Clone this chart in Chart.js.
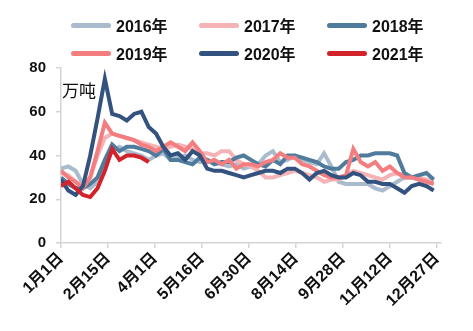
<!DOCTYPE html>
<html>
<head>
<meta charset="utf-8">
<script src="https://cdn.jsdelivr.net/npm/chart.js@4/dist/chart.umd.min.js"></script>
<style>
  html, body { margin: 0; padding: 0; background: #fff; }
  #wrap { position: relative; width: 473px; height: 331px; }
  #legend {
    position: absolute; left: 71px; top: 15px;
    display: grid; grid-template-columns: 128px 128px 128px; row-gap: 8px;
    font: bold 16px "Liberation Sans", "Noto Sans CJK SC", sans-serif; color: #111;
  }
  .item { display: flex; align-items: center; height: 20px; }
  .swatch { width: 40px; height: 5px; border-radius: 3px; margin-right: 5px; }
</style>
</head>
<body>
<div id="wrap">
  <canvas id="stockChart" width="473" height="331"></canvas>
  <div id="legend"></div>
</div>
<script>
// weekly readings, days counted from 1 Jan
const years = ['2016年', '2017年', '2018年', '2019年', '2020年', '2021年'];
const colors = ['#a9bbcd', '#f5b3b6', '#4f7c9c', '#f47d7f', '#33527f', '#d2232b'];

const tickDays = [0, 45, 90, 135, 180, 225, 270, 315, 360];
const tickLabels = ['1月1日', '2月15日', '4月1日', '5月16日', '6月30日', '8月14日', '9月28日', '11月12日', '12月27日'];
const yTicks = [0, 20, 40, 60, 80];

const data2016 = [34, 35, 33, 27, 25, 28, 35, 42, 44, 42, 41, 40, 38, 40, 41, 38, 39, 40, 38, 37, 38, 37, 36, 35, 36, 34,
  35, 36, 40, 42, 37, 38, 40, 38, 37, 36, 41, 35, 28, 27, 27, 27, 27, 25, 24, 26, 28, 30, 30, 29, 28, 27];
const data2017 = [32, 31, 28, 26, 30, 40, 48, 50, 49, 48, 47, 46, 45, 44, 43, 44, 45, 44, 43, 41, 41, 40, 42, 42, 38, 36,
  35, 33, 30, 30, 31, 32, 33, 32, 31, 30, 28, 29, 29, 31, 33, 32, 31, 30, 29, 31, 32, 31, 30, 30, 29, 28];
const data2018 = [30, 27, 25, 25, 27, 30, 38, 45, 42, 44, 44, 43, 42, 40, 43, 38, 38, 37, 36, 39, 38, 36, 37, 37, 39, 40,
  38, 36, 35, 38, 36, 40, 40, 39, 38, 37, 35, 34, 34, 37, 38, 40, 40, 41, 41, 41, 40, 32, 30, 31, 32, 29];
const data2019 = [33, 30, 28, 25, 30, 42, 55, 50, 49, 48, 47, 45, 44, 42, 44, 46, 44, 42, 46, 42, 37, 38, 36, 38, 34, 36,
  36, 35, 37, 38, 41, 39, 39, 36, 35, 33, 31, 30, 30, 31, 43, 37, 35, 37, 33, 35, 32, 30, 30, 29, 28, 27];
const data2020 = [29, 24, 22, 26, 40, 57, 75, 59, 58, 56, 59, 60, 53, 50, 44, 40, 41, 38, 42, 40, 34, 33, 33, 32, 31, 30,
  31, 32, 33, 33, 32, 34, 34, 32, 29, 32, 33, 31, 30, 30, 32, 31, 28, 28, 27, 27, 25, 23, 26, 27, 26, 24];
const data2021 = [26, 28, 25, 22, 21, 25, 33, 43, 38, 40, 40, 39, 37];

const seriesData = [data2016, data2017, data2018, data2019, data2020, data2021];

function toPoints(values) {
  return values.map((v, i) => ({ x: i * 7, y: v }));
}

const unitLabel = {
  id: 'unitLabel',
  afterDraw(chart) {
    const ctx = chart.ctx;
    ctx.save();
    ctx.font = '17px "Noto Sans CJK SC", sans-serif';
    ctx.fillStyle = '#111';
    ctx.textBaseline = 'middle';
    ctx.fillText('万吨', 62, 91);
    ctx.restore();
  }
};

const axisFont = { family: '"Liberation Sans", "Noto Sans CJK SC", sans-serif', size: 15, weight: 'bold' };

new Chart(document.getElementById('stockChart'), {
  type: 'line',
  data: {
    datasets: years.map((name, i) => ({
      label: name,
      data: toPoints(seriesData[i]),
      borderColor: colors[i],
      backgroundColor: colors[i],
      borderWidth: 4,
      pointRadius: 0,
      tension: 0,
      order: years.length - i
    }))
  },
  options: {
    responsive: false,
    animation: false,
    layout: { padding: { top: 68, right: 32, left: 0, bottom: 0 } },
    plugins: { legend: { display: false }, tooltip: { enabled: false } },
    scales: {
      x: {
        type: 'linear',
        min: 0,
        max: 364,
        afterBuildTicks: scale => { scale.ticks = tickDays.map(v => ({ value: v })); },
        afterFit: scale => { scale.height = 88; },
        border: { color: '#d4d4d4', width: 1.5 },
        grid: { drawOnChartArea: false, color: '#d4d4d4', tickLength: 5, lineWidth: 1.5 },
        ticks: {
          minRotation: 45,
          maxRotation: 45,
          color: '#111',
          font: { ...axisFont, size: 16 },
          padding: 1,
          callback: value => tickLabels[tickDays.indexOf(value)]
        }
      },
      y: {
        min: 0,
        max: 80,
        afterBuildTicks: scale => { scale.ticks = yTicks.map(v => ({ value: v })); },
        afterFit: scale => { scale.width = 61; },
        border: { color: '#d4d4d4', width: 1.5 },
        grid: { drawOnChartArea: false, color: '#d4d4d4', tickLength: 5, lineWidth: 1.5 },
        ticks: { color: '#111', font: axisFont, padding: 10 }
      }
    }
  },
  plugins: [unitLabel]
});

const legendEl = document.getElementById('legend');
legendEl.innerHTML = years.map((name, i) => `
  <div class="item"><span class="swatch" style="background:${colors[i]}"></span>${name}</div>
`).join('');
</script>
</body>
</html>
